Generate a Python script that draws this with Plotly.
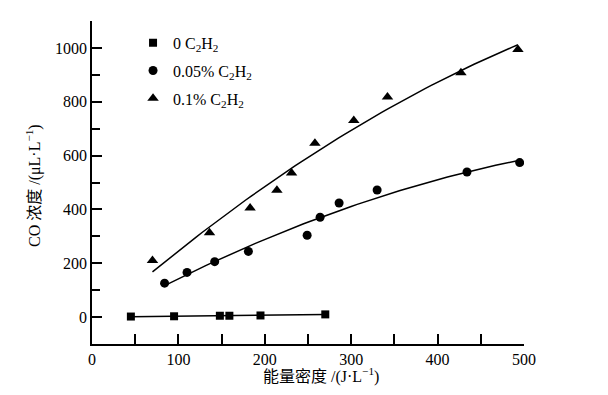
import numpy as np
import plotly.graph_objects as go

# data
x_0 = [45, 95, 148, 159, 195, 270]
y_0 = [2, 3, 5, 5, 6, 10]
x_005 = [84, 110, 142, 181, 249, 264, 286, 330, 434, 495]
y_005 = [126, 166, 206, 244, 304, 371, 424, 472, 539, 574]
x_01 = [70, 136, 183, 214, 231, 258, 303, 342, 427, 493]
y_01 = [210, 313, 405, 471, 535, 646, 730, 818, 908, 994]
names = ["0 C<sub>2</sub>H<sub>2</sub>", "0.05% C<sub>2</sub>H<sub>2</sub>", "0.1% C<sub>2</sub>H<sub>2</sub>"]
symbols = ["square", "circle", "triangle-up"]
sizes = [8, 9, 10]
x_ticks = [0, 100, 200, 300, 400, 500]
y_ticks = [0, 200, 400, 600, 800, 1000]

FONT = "Liberation Serif, Times New Roman, Noto Sans CJK SC, serif"

fig = go.Figure()
series = [(x_0, y_0), (x_005, y_005), (x_01, y_01)]
for i, (xs, ys) in enumerate(series):
    xs_a = np.array(xs, float)
    ys_a = np.array(ys, float)
    deg = 1 if i == 0 else 2
    coef = np.polyfit(xs_a, ys_a, deg)
    xf = np.linspace(xs_a.min(), xs_a.max(), 60)
    yf = np.polyval(coef, xf)
    fig.add_trace(go.Scatter(x=xf, y=yf, mode="lines", line=dict(color="black", width=1.5),
                             showlegend=False, hoverinfo="skip"))
for i, (xs, ys) in enumerate(series):
    fig.add_trace(go.Scatter(x=xs, y=ys, mode="markers", name=names[i], legendgroup=str(i),
                             marker=dict(symbol=symbols[i], size=sizes[i], color="black")))

axis_common = dict(showline=True, linecolor="black", linewidth=1.5, ticks="inside",
                   ticklen=10, tickwidth=1.5, tickcolor="black", showgrid=False, zeroline=False,
                   tickfont=dict(family=FONT, size=16, color="black"))
fig.update_xaxes(range=[0, 500], tickvals=x_ticks, ticktext=[str(v) for v in x_ticks],
                 minor=dict(ticks="inside", ticklen=10, tickwidth=1.5, tickcolor="black", dtick=50, tick0=0),
                 **axis_common)
fig.update_yaxes(range=[-100, 1100], tickvals=y_ticks, ticktext=[str(v) for v in y_ticks],
                 minor=dict(ticks="inside", ticklen=8, tickwidth=1.5, tickcolor="black", dtick=100, tick0=0),
                 **axis_common)

fig.update_layout(
    width=608, height=395,
    margin=dict(l=84, r=92, t=13, b=59),
    plot_bgcolor="white", paper_bgcolor="white",
    font=dict(family=FONT, size=16, color="black"),
    legend=dict(x=0.095, y=0.985, xanchor="left", yanchor="top", bgcolor="rgba(0,0,0,0)",
                font=dict(family=FONT, size=16, color="black"), tracegroupgap=4,
                itemwidth=30),
    annotations=[
        dict(text="能量密度 /(J·L<sup>−1</sup>)", xref="paper", yref="paper",
             x=(320 - 91) / 432, y=-(374 - 343) / 323, xanchor="center", yanchor="middle",
             showarrow=False, font=dict(family=FONT, size=16, color="black")),
        dict(text="CO 浓度 /(μL·L<sup>−1</sup>)", xref="paper", yref="paper",
             x=(32 - 91) / 432, y=(343 - 185) / 323, xanchor="center", yanchor="middle",
             textangle=-90, showarrow=False, font=dict(family=FONT, size=16, color="black")),
    ],
)
fig.write_html("out.html")
